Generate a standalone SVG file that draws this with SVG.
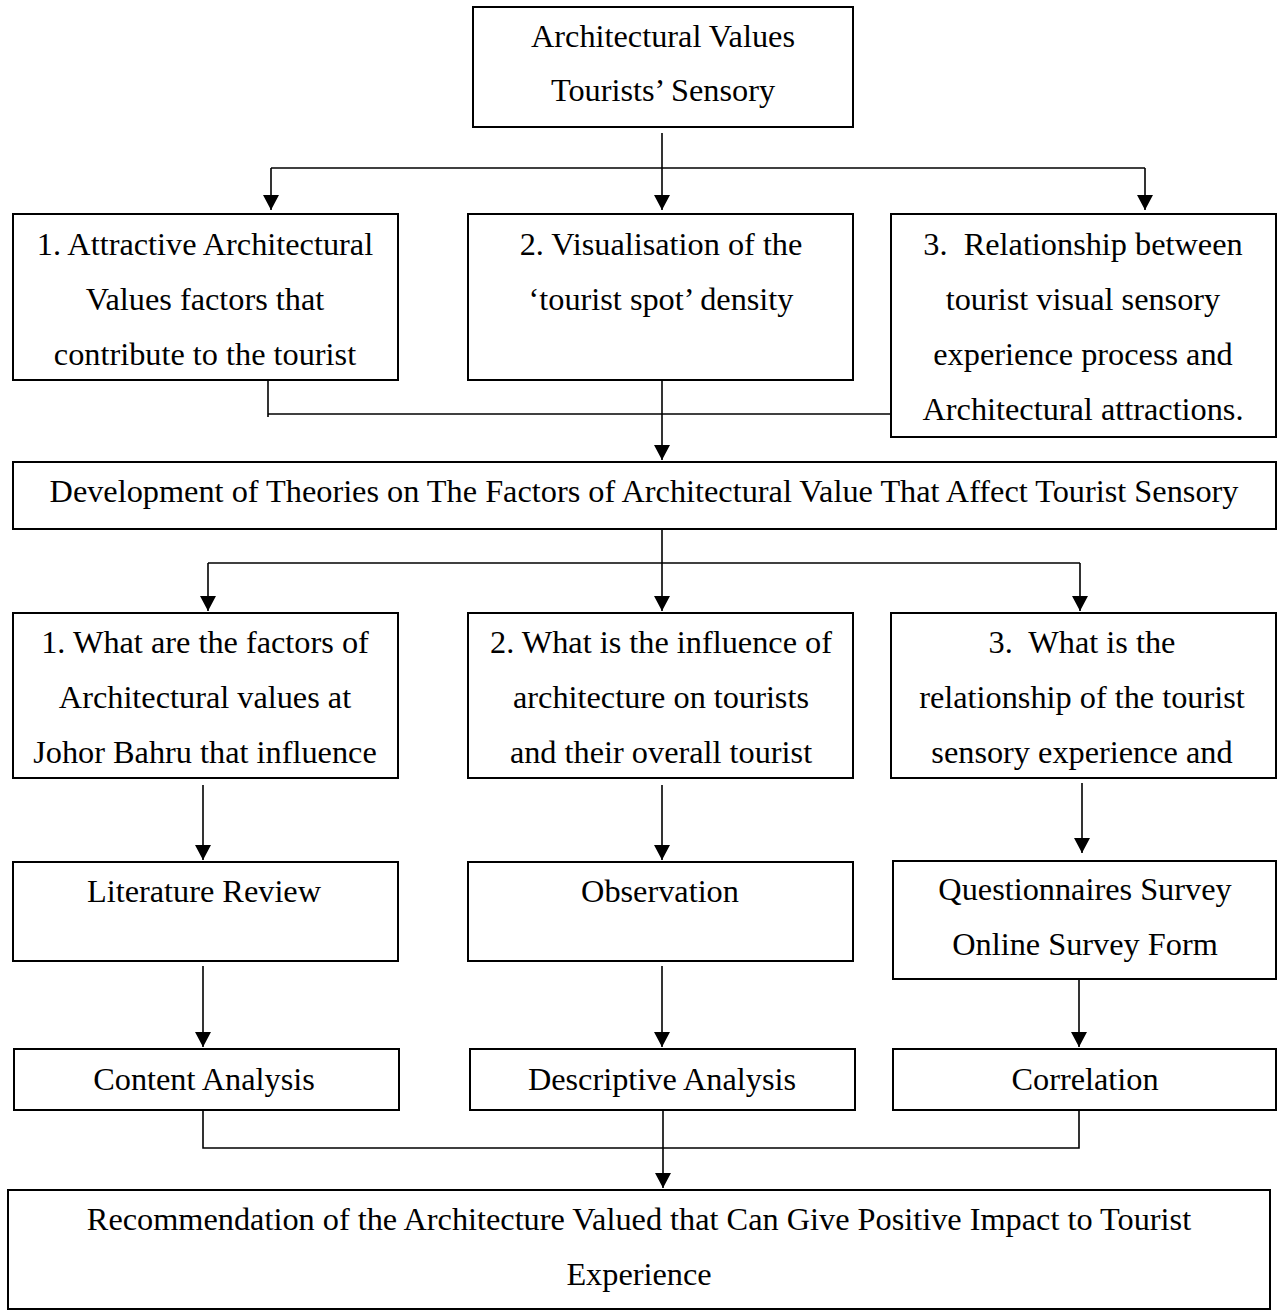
<svg xmlns="http://www.w3.org/2000/svg" width="1277" height="1312" viewBox="0 0 1277 1312">
<style>
.box{fill:#fff;stroke:#000;stroke-width:2}
.t{font-family:"Liberation Serif","Times New Roman",serif;font-size:32.3px;fill:#000;text-anchor:middle;white-space:pre}
.c{fill:none;stroke:#000;stroke-width:1.6}
</style>
<defs>
<marker id="ah" markerUnits="userSpaceOnUse" markerWidth="16" markerHeight="16" refX="8" refY="15" orient="0" viewBox="0 0 16 16">
<path d="M0,0 L16,0 L8,15 Z" fill="#000"/>
</marker>
</defs>
<rect width="1277" height="1312" fill="#fff"/>
<g id="connectors">
<path class="c" d="M662,133 V168"/>
<path class="c" d="M271,168 H1145"/>
<path class="c" d="M271,168 V210" marker-end="url(#ah)"/>
<path class="c" d="M662,168 V210" marker-end="url(#ah)"/>
<path class="c" d="M1145,168 V210" marker-end="url(#ah)"/>
<path class="c" d="M268,380 V417"/>
<path class="c" d="M268,414 H891"/>
<path class="c" d="M662,380 V460" marker-end="url(#ah)"/>
<path class="c" d="M662,529 V563"/>
<path class="c" d="M208,563 H1080"/>
<path class="c" d="M208,563 V611" marker-end="url(#ah)"/>
<path class="c" d="M662,563 V611" marker-end="url(#ah)"/>
<path class="c" d="M1080,563 V611" marker-end="url(#ah)"/>
<path class="c" d="M203,785 V860" marker-end="url(#ah)"/>
<path class="c" d="M662,785 V860" marker-end="url(#ah)"/>
<path class="c" d="M1082,783 V853" marker-end="url(#ah)"/>
<path class="c" d="M203,966 V1047" marker-end="url(#ah)"/>
<path class="c" d="M662,966 V1047" marker-end="url(#ah)"/>
<path class="c" d="M1079,975 V1047" marker-end="url(#ah)"/>
<path class="c" d="M203,1110 V1148 H1079 V1110"/>
<path class="c" d="M663,1110 V1188" marker-end="url(#ah)"/>
</g>
<g id="n-top">
<rect class="box" x="473" y="7" width="380" height="120"/>
<text class="t" x="663" y="47">Architectural Values</text>
<text class="t" x="663" y="101">Tourists’ Sensory</text>
</g>
<g id="n-obj1">
<rect class="box" x="13" y="214" width="385" height="166"/>
<text class="t" x="205" y="255">1. Attractive Architectural</text>
<text class="t" x="205" y="310">Values factors that</text>
<text class="t" x="205" y="365">contribute to the tourist</text>
</g>
<g id="n-obj2">
<rect class="box" x="468" y="214" width="385" height="166"/>
<text class="t" x="661" y="255">2. Visualisation of the</text>
<text class="t" x="661" y="310">‘tourist spot’ density</text>
</g>
<g id="n-obj3">
<rect class="box" x="891" y="214" width="385" height="223"/>
<text class="t" x="1083" y="255">3.  Relationship between</text>
<text class="t" x="1083" y="310">tourist visual sensory</text>
<text class="t" x="1083" y="365">experience process and</text>
<text class="t" x="1083" y="420">Architectural attractions.</text>
</g>
<g id="n-theory">
<rect class="box" x="13" y="462" width="1263" height="67"/>
<text class="t" x="644" y="502">Development of Theories on The Factors of Architectural Value That Affect Tourist Sensory</text>
</g>
<g id="n-q1">
<rect class="box" x="13" y="613" width="385" height="165"/>
<text class="t" x="205" y="653">1. What are the factors of</text>
<text class="t" x="205" y="708">Architectural values at</text>
<text class="t" x="205" y="763">Johor Bahru that influence</text>
</g>
<g id="n-q2">
<rect class="box" x="468" y="613" width="385" height="165"/>
<text class="t" x="661" y="653">2. What is the influence of</text>
<text class="t" x="661" y="708">architecture on tourists</text>
<text class="t" x="661" y="763">and their overall tourist</text>
</g>
<g id="n-q3">
<rect class="box" x="891" y="613" width="385" height="165"/>
<text class="t" x="1082" y="653">3.  What is the</text>
<text class="t" x="1082" y="708">relationship of the tourist</text>
<text class="t" x="1082" y="763">sensory experience and</text>
</g>
<g id="n-lit">
<rect class="box" x="13" y="862" width="385" height="99"/>
<text class="t" x="204" y="902">Literature Review</text>
</g>
<g id="n-obs">
<rect class="box" x="468" y="862" width="385" height="99"/>
<text class="t" x="660" y="902">Observation</text>
</g>
<g id="n-quest">
<rect class="box" x="893" y="861" width="383" height="118"/>
<text class="t" x="1085" y="900">Questionnaires Survey</text>
<text class="t" x="1085" y="955">Online Survey Form</text>
</g>
<g id="n-content">
<rect class="box" x="14" y="1049" width="385" height="61"/>
<text class="t" x="204" y="1090">Content Analysis</text>
</g>
<g id="n-desc">
<rect class="box" x="470" y="1049" width="385" height="61"/>
<text class="t" x="662" y="1090">Descriptive Analysis</text>
</g>
<g id="n-corr">
<rect class="box" x="893" y="1049" width="383" height="61"/>
<text class="t" x="1085" y="1090">Correlation</text>
</g>
<g id="n-rec">
<rect class="box" x="8" y="1190" width="1262" height="119"/>
<text class="t" x="639" y="1230">Recommendation of the Architecture Valued that Can Give Positive Impact to Tourist</text>
<text class="t" x="639" y="1285">Experience</text>
</g>
</svg>
